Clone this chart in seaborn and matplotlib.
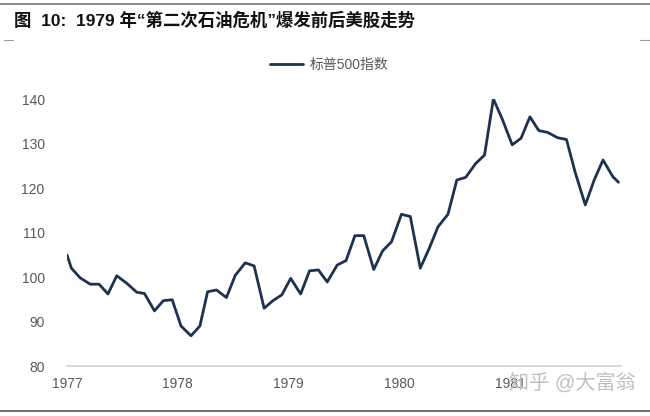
import pandas as pd
import matplotlib.pyplot as plt
import seaborn as sns

# S&P 500 index, roughly monthly (x = decimal year)
dates = [1977.00, 1977.04, 1977.12, 1977.21, 1977.29, 1977.37, 1977.45, 1977.54,
         1977.63, 1977.70, 1977.79, 1977.87, 1977.95, 1978.03, 1978.12, 1978.20,
         1978.27, 1978.35, 1978.44, 1978.52, 1978.61, 1978.69, 1978.78, 1978.86,
         1978.94, 1979.02, 1979.11, 1979.19, 1979.27, 1979.35, 1979.44, 1979.52,
         1979.60, 1979.68, 1979.77, 1979.85, 1979.93, 1980.02, 1980.10, 1980.19,
         1980.27, 1980.35, 1980.44, 1980.52, 1980.60, 1980.69, 1980.77, 1980.85,
         1980.93, 1981.02, 1981.10, 1981.18, 1981.26, 1981.34, 1981.43, 1981.51,
         1981.59, 1981.68, 1981.76, 1981.84, 1981.93, 1981.98]
spx = [105.0, 102.0, 99.8, 98.4, 98.4, 96.2, 100.3, 98.6,
       96.6, 96.3, 92.4, 94.7, 94.9, 89.0, 86.8, 89.0,
       96.7, 97.1, 95.4, 100.4, 103.2, 102.5, 93.0, 94.7,
       96.0, 99.7, 96.2, 101.4, 101.6, 98.9, 102.7, 103.7,
       109.3, 109.3, 101.7, 105.9, 107.9, 114.1, 113.6, 102.0,
       106.4, 111.3, 114.1, 121.8, 122.4, 125.5, 127.4, 140.0,
       135.5, 129.7, 131.2, 136.0, 132.9, 132.5, 131.3, 130.9,
       123.4, 116.2, 121.8, 126.3, 122.5, 121.3]
year_ticks = [1977, 1978, 1979, 1980, 1981, 1982]
year_labels = ["1977", "1978", "1979", "1980", "1981", ""]
y_ticks = [80, 90, 100, 110, 120, 130, 140]

title = "图  10:  1979 年“第二次石油危机”爆发前后美股走势"
series_name = "标普500指数"

df = pd.DataFrame({"date": dates, series_name: spx})

sns.set_style("white")
plt.rcParams["font.family"] = ["Liberation Sans", "Noto Sans CJK SC", "DejaVu Sans"]

fig = plt.figure(figsize=(6.5, 4.16), dpi=100)
ax = fig.add_axes([0.103, 0.12, 0.852, 0.642])

sns.lineplot(data=df, x="date", y=series_name, ax=ax, color="#1c324f",
             linewidth=2.0, legend=False)

ax.set_xlim(1977, 1982)
ax.set_ylim(80, 140)
ax.set_xticks(year_ticks)
ax.set_xticklabels(year_labels)
ax.set_yticks(y_ticks)
ax.set_xlabel("")
ax.set_ylabel("")

for side in ["top", "right", "left"]:
    ax.spines[side].set_visible(False)
ax.spines["bottom"].set_color("#d0d0d0")
ax.spines["bottom"].set_linewidth(1.2)
ax.tick_params(axis="x", length=5, width=1.0, color="#d0d0d0",
               labelsize=10, labelcolor="#595959", pad=3)
ax.tick_params(axis="y", length=0, labelsize=10, labelcolor="#595959", pad=16)

handle = plt.Line2D([], [], color="#1c324f", lw=2.0)
leg = fig.legend([handle], [series_name], loc="center",
                 bbox_to_anchor=(0.506, 0.844), frameon=False, fontsize=10,
                 handlelength=2.4, handletextpad=0.45)
for t in leg.get_texts():
    t.set_color("#595959")

# title and page rules
fig.text(0.022, 0.952, title, fontsize=12.5, fontweight="bold", va="center",
         ha="left", color="#111111")
fig.add_artist(plt.Line2D([0, 1], [0.99, 0.99], color="#777777", lw=1.2))
fig.add_artist(plt.Line2D([0.006, 0.02], [0.904, 0.904], color="#999999", lw=0.8))
fig.add_artist(plt.Line2D([0.985, 1], [0.904, 0.904], color="#999999", lw=0.8))
fig.add_artist(plt.Line2D([0, 1], [0.013, 0.013], color="#555555", lw=1.2))

# watermark (overlaps the 1981 label, as in the reference)
fig.text(0.978, 0.08, "知乎 @大富翁", fontsize=14.5, color="#c0c0c0",
         ha="right", va="center")

fig.savefig("out.png", dpi=100)
